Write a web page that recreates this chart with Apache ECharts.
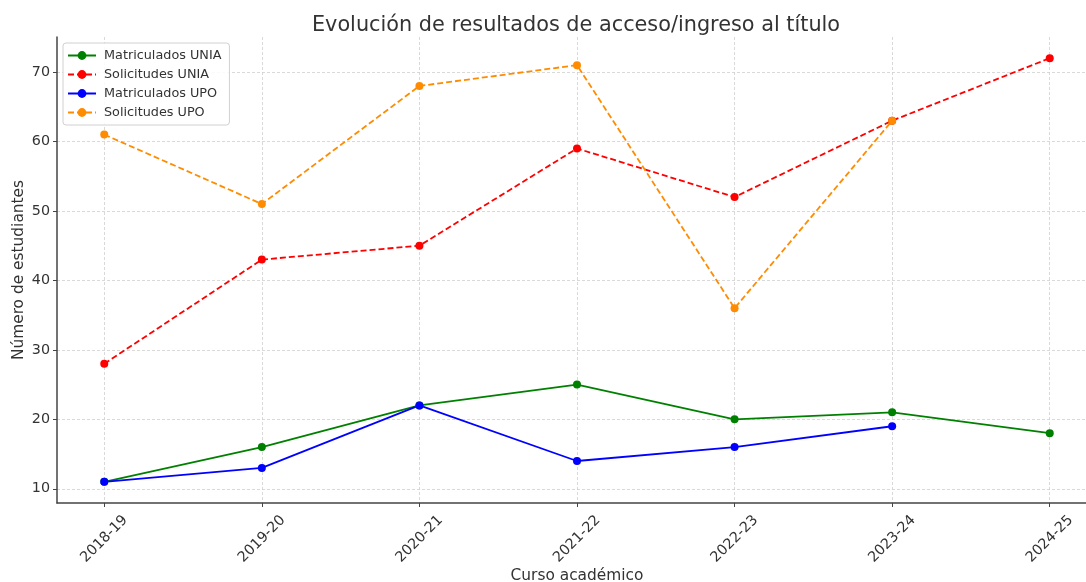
<!DOCTYPE html>
<html>
<head>
<meta charset="utf-8">
<script src="https://cdn.jsdelivr.net/npm/echarts@6/dist/echarts.min.js"></script>
<style>
  html, body { margin: 0; padding: 0; background: #fff; }
  #chart { width: 1086px; height: 582px; }
</style>
</head>
<body>
<div id="chart"></div>
<script>
const categories = ['2018-19', '2019-20', '2020-21', '2021-22', '2022-23', '2023-24', '2024-25'];
const matriculadosUNIA = [11, 16, 22, 25, 20, 21, 18];
const solicitudesUNIA = [28, 43, 45, 59, 52, 63, 72];
const matriculadosUPO = [11, 13, 22, 14, 16, 19, null];
const solicitudesUPO = [61, 51, 68, 71, 36, 63, null];
const yTicks = [10, 20, 30, 40, 50, 60, 70];
const xTicks = categories.map((c, i) => i);

const font = 'DejaVu Sans';
const chart = echarts.init(document.getElementById('chart'));

// pares [indice, valor] sin huecos
function toPoints(values) {
    return values.map((v, i) => [i, v]).filter(p => p[1] !== null);
}

function lineSeries(name, values, color, dashed) {
    return {
        name: name,
        type: 'line',
        data: toPoints(values),
        symbol: 'circle',
        symbolSize: 8,
        itemStyle: { color: color },
        lineStyle: { color: color, width: 1.8, type: dashed ? [6, 3] : 'solid' },
        emphasis: { disabled: true },
        animation: false
    };
}

const gridLine = { show: true, lineStyle: { color: '#cfcfcf', width: 0.8, type: [3, 2] } };
const axisLine = { show: true, onZero: false, lineStyle: { color: '#444', width: 1.5 } };

const option = {
    backgroundColor: '#fff',
    title: {
        text: 'Evolución de resultados de acceso/ingreso al título',
        left: 571,
        top: 10,
        textAlign: 'center',
        textStyle: { fontFamily: font, fontSize: 20.8, fontWeight: 'normal', color: '#333' }
    },
    legend: {
        orient: 'vertical',
        left: 63,
        top: 43,
        padding: [6, 8, 6, 4],
        itemGap: 6,
        itemWidth: 28,
        itemHeight: 11,
        borderColor: '#d0d0d0',
        borderWidth: 1,
        borderRadius: 3,
        backgroundColor: 'rgba(255,255,255,0.85)',
        textStyle: { fontFamily: font, fontSize: 12.8, color: '#333', padding: [0, 0, 0, 3] },
        data: ['Matriculados UNIA', 'Solicitudes UNIA', 'Matriculados UPO', 'Solicitudes UPO']
    },
    grid: { left: 57, top: 37, width: 1040, height: 466, containLabel: false, outerBoundsMode: 'none' },
    xAxis: {
        type: 'value',
        min: -0.3,
        max: 6.3,
        name: 'Curso académico',
        nameLocation: 'middle',
        nameGap: 65,
        nameMoveOverlap: false,
        nameTextStyle: { fontFamily: font, fontSize: 15.4, color: '#333' },
        axisLine: axisLine,
        axisTick: { show: true, length: 4, customValues: xTicks, lineStyle: { color: '#444' } },
        axisLabel: {
            customValues: xTicks,
            rotate: 45,
            align: 'center',
            verticalAlign: 'middle',
            margin: 36,
            fontFamily: font,
            fontSize: 14.3,
            color: '#333',
            formatter: v => categories[v]
        },
        splitLine: gridLine
    },
    yAxis: {
        type: 'value',
        min: 7.95,
        max: 75.05,
        name: 'Número de estudiantes',
        nameLocation: 'middle',
        nameGap: 31,
        nameMoveOverlap: false,
        nameTextStyle: { fontFamily: font, fontSize: 15.4, color: '#333' },
        axisLine: axisLine,
        axisTick: { show: true, length: 4, customValues: yTicks, lineStyle: { color: '#444' } },
        axisLabel: { customValues: yTicks, margin: 7, fontFamily: font, fontSize: 14.3, color: '#333' },
        splitLine: gridLine
    },
    series: [
        lineSeries('Matriculados UNIA', matriculadosUNIA, '#008000', false),
        lineSeries('Solicitudes UNIA', solicitudesUNIA, '#ff0000', true),
        lineSeries('Matriculados UPO', matriculadosUPO, '#0000ff', false),
        lineSeries('Solicitudes UPO', solicitudesUPO, '#ff8c00', true)
    ]
};
chart.setOption(option);
</script>
</body>
</html>
